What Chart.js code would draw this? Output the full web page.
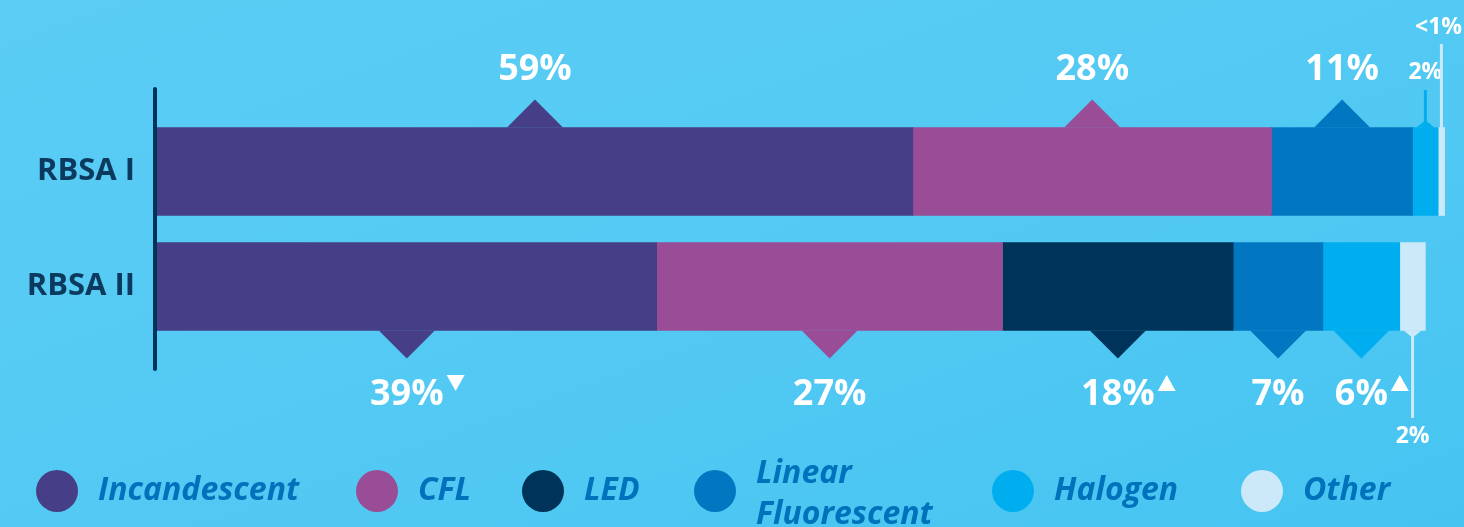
<!DOCTYPE html>
<html>
<head>
<meta charset="utf-8">
<script src="https://cdn.jsdelivr.net/npm/chart.js@4"></script>
<style>
  html, body { margin: 0; padding: 0; }
  body { width: 1464px; height: 527px; overflow: hidden;
         background: linear-gradient(160deg, #5bcdf5 0%, #52c9f3 55%, #46c4f1 100%); }
  #wrap { position: relative; width: 1464px; height: 527px; }
</style>
</head>
<body>
<div id="wrap"><canvas id="lampChart" width="1464" height="527"></canvas></div>
<script>
// categorias e séries
const categories = ["RBSA I", "RBSA II"];
const seriesNames = ["Incandescent", "CFL", "LED", "Linear Fluorescent", "Halogen", "Other"];
const seriesColors = ["#463f87", "#994d96", "#00335a", "#0077c0", "#00aeef", "#cce9f9"];

const incandescent = [59, 39];
const cfl = [28, 27];
const led = [0, 18];
const linearFluor = [11, 7];
const halogen = [2, 6];
const other = [0.5, 2];

// textos das etiquetas (por categoria)
const labelsRbsa1 = ["59%", "28%", "", "11%", "2%", "<1%"];
const labelsRbsa2 = ["39%", "27%", "18%", "7%", "6%", "2%"];
const trendRbsa2 = ["down", "", "up", "", "up", ""];

const seriesValues = [incandescent, cfl, led, linearFluor, halogen, other];

const FONT = "'Open Sans', 'Noto Sans', sans-serif";

// desenha setas, rótulos, eixo e legenda
const calloutPlugin = {
  id: "callouts",
  afterDatasetsDraw(chart) {
    const ctx = chart.ctx;
    const area = chart.chartArea;
    ctx.save();

    // eixo vertical
    ctx.strokeStyle = "#00335a";
    ctx.lineWidth = 4;
    ctx.lineCap = "round";
    ctx.beginPath();
    ctx.moveTo(area.left - 2, 89);
    ctx.lineTo(area.left - 2, 369);
    ctx.stroke();

    chart.data.datasets.forEach((ds, i) => {
      const meta = chart.getDatasetMeta(i);
      meta.data.forEach((bar, j) => {
        const p = bar.getProps(["x", "y", "base", "height"], true);
        const w = p.x - p.base;
        if (w <= 0) return;
        const cx = (p.x + p.base) / 2;
        const up = j === 0;
        const edge = up ? p.y - p.height / 2 : p.y + p.height / 2;
        const dir = up ? -1 : 1;
        const text = up ? labelsRbsa1[i] : labelsRbsa2[i];
        const small = w < 40;

        ctx.fillStyle = ds.backgroundColor;
        if (!small) {
          // seta grande
          ctx.beginPath();
          ctx.moveTo(cx - 28, edge);
          ctx.lineTo(cx, edge + dir * 28);
          ctx.lineTo(cx + 28, edge);
          ctx.closePath();
          ctx.fill();

          ctx.fillStyle = "#ffffff";
          ctx.font = "bold 36px " + FONT;
          ctx.textAlign = "center";
          ctx.textBaseline = "middle";
          const ty = up ? 70 : 395;
          ctx.fillText(text, cx, ty);
          const tr = up ? "" : trendRbsa2[i];
          if (tr) {
            const tw = ctx.measureText(text).width;
            const ax = cx + tw / 2 + 12;
            const ay = ty - 12;
            ctx.beginPath();
            if (tr === "up") {
              ctx.moveTo(ax - 9, ay + 8);
              ctx.lineTo(ax, ay - 8);
              ctx.lineTo(ax + 9, ay + 8);
            } else {
              ctx.moveTo(ax - 9, ay - 8);
              ctx.lineTo(ax, ay + 8);
              ctx.lineTo(ax + 9, ay - 8);
            }
            ctx.closePath();
            ctx.fill();
          }
        } else {
          // seta pequena com linha guia
          const half = Math.min(10, w * 0.35);
          if (w > 10) {
            ctx.beginPath();
            ctx.moveTo(cx - half, edge);
            ctx.lineTo(cx, edge + dir * half * 0.8);
            ctx.lineTo(cx + half, edge);
            ctx.closePath();
            ctx.fill();
          }
          const far = i === 5 ? (up ? 44 : 418) : (up ? 90 : 418);
          ctx.strokeStyle = ds.backgroundColor;
          ctx.lineWidth = 3;
          ctx.lineCap = "butt";
          ctx.beginPath();
          ctx.moveTo(cx, edge);
          ctx.lineTo(cx, far);
          ctx.stroke();

          ctx.fillStyle = "#ffffff";
          ctx.font = "bold 23px " + FONT;
          ctx.textAlign = "center";
          ctx.textBaseline = "middle";
          let lx = cx;
          if (lx + ctx.measureText(text).width / 2 > 1462) lx = 1462 - ctx.measureText(text).width / 2;
          const ly = up ? (i === 5 ? 27 : 72) : 436;
          ctx.fillText(text, lx, ly);
        }
      });
    });

    // legenda
    const legendX = [57, 377, 543, 715, 1013, 1262];
    const legendY = 491;
    ctx.font = "italic bold 32px " + FONT;
    ctx.textAlign = "left";
    ctx.textBaseline = "middle";
    seriesNames.forEach((name, i) => {
      ctx.fillStyle = seriesColors[i];
      ctx.beginPath();
      ctx.arc(legendX[i], legendY, 21, 0, Math.PI * 2);
      ctx.fill();
      ctx.fillStyle = "#0072bc";
      if (name === "Linear Fluorescent") {
        ctx.fillText("Linear", legendX[i] + 41, legendY - 17);
        ctx.fillText("Fluorescent", legendX[i] + 41, legendY + 24);
      } else {
        ctx.fillText(name, legendX[i] + 41, legendY);
      }
    });
    ctx.restore();
  }
};

const datasets = seriesNames.map((name, i) => ({
  label: name,
  data: seriesValues[i],
  backgroundColor: seriesColors[i],
  borderWidth: 0,
  barThickness: 88,
}));

new Chart(document.getElementById("lampChart"), {
  type: "bar",
  data: { labels: categories, datasets: datasets },
  options: {
    indexAxis: "y",
    responsive: false,
    animation: false,
    layout: { padding: { top: 114, bottom: 183, right: 13, left: 0 } },
    plugins: { legend: { display: false }, tooltip: { enabled: false } },
    scales: {
      x: { stacked: true, min: 0, max: 101, display: false },
      y: {
        stacked: true,
        grid: { display: false },
        border: { display: false },
        ticks: { color: "#0b3a5e", font: { family: FONT, size: 31, weight: "bold" }, padding: 14 },
        afterFit(scale) { scale.width = 157; },
      },
    },
  },
  plugins: [calloutPlugin],
});
</script>
</body>
</html>
